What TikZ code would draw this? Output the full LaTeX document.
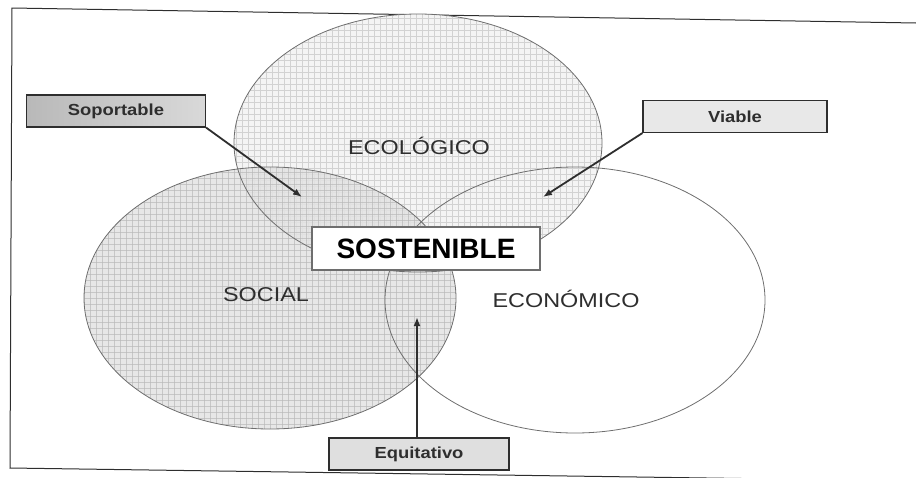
\documentclass[tikz,border=0pt]{standalone}
\usepackage{fontspec}
\usepackage{graphicx}
\setmainfont{Liberation Sans}
\usetikzlibrary{arrows.meta}
\definecolor{inkgray}{HTML}{2E2E2E}
\definecolor{linegray}{HTML}{6E6E6E}
\newcommand{\widetext}[2]{\scalebox{#1}[1]{#2}}
\tikzset{
  circlabel/.style={text=inkgray, font=\fontsize{20}{22}\selectfont},
  tagbox/.style={draw=inkgray, line width=1.1pt, text=inkgray, minimum height=32pt, inner sep=0pt, font=\fontsize{16}{18}\selectfont\bfseries},
  mainbox/.style={draw=linegray, line width=1.4pt, fill=white, text=black, minimum width=228pt, minimum height=43pt, inner sep=0pt, font=\fontsize{28}{30}\selectfont\bfseries},
  pointer/.style={draw=inkgray, line width=1.8pt, -{Latex[length=9pt,width=7pt]}},
  rim/.style={draw=linegray, line width=0.8pt},
  gridA/.style={draw=gray!35, line width=0.6pt},
  gridB/.style={draw=gray!55, line width=0.9pt}
}
\begin{document}
\begin{tikzpicture}[x=1pt,y=-1pt]
\useasboundingbox (0,0) rectangle (916,477);
% frame
\draw[inkgray, line width=1pt] (916,23) -- (12,8) -- (10,468) -- (916,481);
% ecologico fill
\begin{scope}
  \clip (418,143) ellipse [x radius=184, y radius=129];
  \fill[gray!9] (200,0) rectangle (620,300);
  \foreach \k in {0,...,70} {\draw[gridA] (230+\k*6,0) -- (230+\k*6,300);}
  \foreach \k in {0,...,50} {\draw[gridA] (200,12+\k*6) -- (620,12+\k*6);}
\end{scope}
% social fill
\begin{scope}
  \clip (270,298) ellipse [x radius=186, y radius=131];
  \fill[gray!22, fill opacity=0.85] (80,160) rectangle (460,440);
  \foreach \k in {0,...,65} {\draw[gridB, draw opacity=0.7] (84+\k*6,160) -- (84+\k*6,440);}
  \foreach \k in {0,...,48} {\draw[gridB, draw opacity=0.7] (80,166+\k*6) -- (460,166+\k*6);}
\end{scope}
% outlines
\draw[rim] (418,143) ellipse [x radius=184, y radius=129];
\draw[rim] (270,298) ellipse [x radius=186, y radius=131];
\draw[rim] (575,300) ellipse [x radius=190, y radius=133];
% labels in circles
\node[circlabel] (eco) at (419,146) {\widetext{1.17}{ECOLÓGICO}};
\node[circlabel] (soc) at (266,295) {\widetext{1.17}{SOCIAL}};
\node[circlabel] (econ) at (566,299) {\widetext{1.17}{ECONÓMICO}};
% boxes
\node[tagbox, minimum width=179pt, left color=gray!55, right color=gray!30] (sop) at (116,111) {\widetext{1.15}{Soportable}};
\node[tagbox, minimum width=184pt, fill=gray!18] (via) at (735,116.5) {\widetext{1.15}{Viable}};
\node[tagbox, minimum width=180pt, fill=gray!25] (equ) at (419,454) {\widetext{1.15}{Equitativo}};
\node[mainbox] (sos) at (426,248.5) {SOSTENIBLE};
% arrow targets
\coordinate (tSop) at (302,197);
\coordinate (tVia) at (543,197);
\coordinate (tEqu) at (417,317);
\draw[pointer] (sop.south east) -- (tSop);
\draw[pointer] (via.south west) -- (tVia);
\draw[pointer] (equ.north -| tEqu) -- (tEqu);
\end{tikzpicture}
\end{document}
